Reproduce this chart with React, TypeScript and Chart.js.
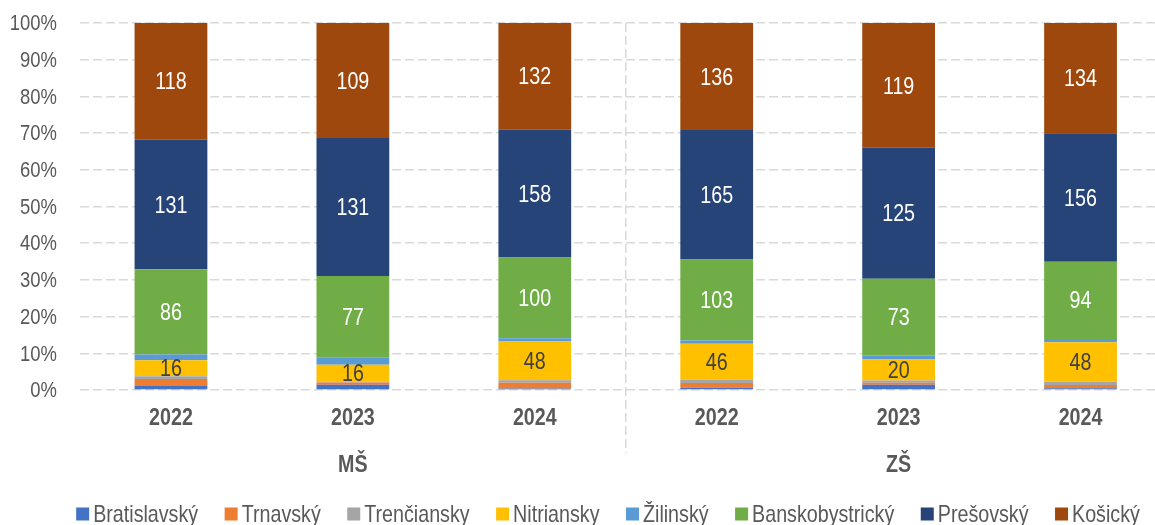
import React, { useEffect, useRef } from 'react';
import { Chart, registerables } from 'chart.js';

Chart.register(...registerables);

const years = ['2022', '2023', '2024', '2022', '2023', '2024'];
const groups = ['MŠ', 'ZŠ'];
const seriesNames = ['Bratislavský', 'Trnavský', 'Trenčiansky', 'Nitriansky', 'Žilinský', 'Banskobystrický', 'Prešovský', 'Košický'];
const seriesColors = ['#4472C4', '#ED7D31', '#A5A5A5', '#FFC000', '#5B9BD5', '#70AD47', '#264478', '#9E480E'];

const bratislavsky = [4, 5, 2, 3, 5, 2];
const trnavsky = [7, 2, 7, 6, 2, 4];
const trenciansky = [3, 1, 3, 4, 2, 4];
const nitriansky = [16, 16, 48, 46, 20, 48];
const zilinsky = [6, 7, 4, 4, 4, 4];
const banskobystricky = [86, 77, 100, 103, 73, 94];
const presovsky = [131, 131, 158, 165, 125, 156];
const kosicky = [118, 109, 132, 136, 119, 134];

const showLabel = [false, false, false, true, false, true, true, true];
const labelColors = ['#fff', '#fff', '#fff', '#404040', '#fff', '#fff', '#fff', '#fff'];

const FONT = "'Liberation Sans', Arial, sans-serif";
const NARROW = 0.82; // emulate Arial Narrow by condensing Arial horizontally
const TEXT = '#595959';
const GRID = '#d9d9d9';

function drawText(
  ctx: CanvasRenderingContext2D,
  text: string,
  x: number,
  y: number,
  size: number,
  bold: boolean,
  color: string,
  align: CanvasTextAlign,
) {
  ctx.save();
  ctx.translate(x, y);
  ctx.scale(NARROW, 1);
  ctx.font = `${bold ? 'bold ' : ''}${size}px ${FONT}`;
  ctx.fillStyle = color;
  ctx.textAlign = align;
  ctx.textBaseline = 'middle';
  ctx.fillText(text, 0, 0);
  ctx.restore();
}

function textWidth(ctx: CanvasRenderingContext2D, text: string, size: number, bold: boolean) {
  ctx.save();
  ctx.font = `${bold ? 'bold ' : ''}${size}px ${FONT}`;
  const w = ctx.measureText(text).width * NARROW;
  ctx.restore();
  return w;
}

export default function App() {
  const ref = useRef<HTMLCanvasElement | null>(null);

  useEffect(() => {
    const raw = [bratislavsky, trnavsky, trenciansky, nitriansky, zilinsky, banskobystricky, presovsky, kosicky];
    const totals = years.map((_, i) => raw.reduce((s, arr) => s + arr[i], 0));

    const labelPlugin = {
      id: 'segLabels',
      afterDatasetsDraw(chart: any) {
        const ctx = chart.ctx;
        chart.data.datasets.forEach((ds: any, di: number) => {
          if (!showLabel[di]) return;
          const meta = chart.getDatasetMeta(di);
          meta.data.forEach((el: any, i: number) => {
            const p = el.getProps(['x', 'y', 'base'], true);
            drawText(ctx, String(raw[di][i]), p.x, (p.y + p.base) / 2 + 1.5, 24, false, labelColors[di], 'center');
          });
        });
      },
    };

    const axisLabelPlugin = {
      id: 'axisLabels',
      afterDraw(chart: any) {
        const ctx = chart.ctx;
        const ys = chart.scales.y;
        ys.ticks.forEach((t: any, i: number) => {
          drawText(ctx, `${t.value}%`, ys.right - 23, ys.getPixelForTick(i) + 1, 22.5, false, TEXT, 'right');
        });
        const xs = chart.scales.x;
        xs.ticks.forEach((t: any, i: number) => {
          drawText(ctx, String(xs.getLabelForValue(t.value)), xs.getPixelForTick(i), xs.top + 28, 24, true, TEXT, 'center');
        });
        const x2 = chart.scales.x2;
        x2.ticks.forEach((t: any, i: number) => {
          drawText(ctx, String(x2.getLabelForValue(t.value)), x2.getPixelForTick(i), x2.top + 33, 24, true, TEXT, 'center');
        });
      },
    };

    const sepPlugin = {
      id: 'separator',
      afterDraw(chart: any) {
        const xs = chart.scales.x;
        const px = (xs.getPixelForValue(2) + xs.getPixelForValue(3)) / 2;
        const ctx = chart.ctx;
        ctx.save();
        ctx.strokeStyle = GRID;
        ctx.lineWidth = 1.5;
        ctx.setLineDash([9, 4]);
        ctx.beginPath();
        ctx.moveTo(px, chart.chartArea.top);
        ctx.lineTo(px, 453);
        ctx.stroke();
        ctx.restore();
      },
    };

    const legendPlugin = {
      id: 'customLegend',
      afterDraw(chart: any) {
        const ctx = chart.ctx;
        const size = 24;
        const box = 13;
        const boxGap = 4;
        const itemGap = 26.5;
        const widths = seriesNames.map((n) => textWidth(ctx, n, size, false));
        const total = widths.reduce((s, w) => s + w + box + boxGap, 0) + itemGap * (seriesNames.length - 1);
        let x = 608 - total / 2;
        const cy = 514;
        seriesNames.forEach((n, i) => {
          ctx.save();
          ctx.fillStyle = seriesColors[i];
          ctx.fillRect(x, cy - box / 2, box, box);
          ctx.restore();
          x += box + boxGap;
          drawText(ctx, n, x, cy + 1, size, false, TEXT, 'left');
          x += widths[i] + itemGap;
        });
      },
    };

    const chart = new Chart(ref.current as HTMLCanvasElement, {
      type: 'bar',
      data: {
        labels: years,
        datasets: seriesNames.map((name, di) => ({
          label: name,
          data: raw[di].map((v, i) => (v / totals[i]) * 100),
          backgroundColor: seriesColors[di],
          borderWidth: 0,
          categoryPercentage: 1,
          barPercentage: 0.4,
        })),
      },
      options: {
        responsive: false,
        animation: false,
        layout: { padding: { left: 11, right: 8.5, top: 23, bottom: 43 } },
        plugins: {
          legend: { display: false },
          tooltip: { enabled: false },
        },
        scales: {
          x: {
            type: 'category',
            stacked: true,
            grid: { display: false, drawTicks: false },
            border: { display: false },
            ticks: { display: false },
            afterFit: (s: any) => { s.height = 42; },
          },
          x2: {
            type: 'category',
            labels: groups,
            position: 'bottom',
            offset: true,
            grid: { display: false, drawTicks: false },
            border: { display: false },
            ticks: { display: false },
            afterFit: (s: any) => { s.height = 50; },
          },
          y: {
            stacked: true,
            min: 0,
            max: 100,
            ticks: { stepSize: 10, display: false },
            grid: { color: GRID, lineWidth: 1.5, drawTicks: false },
            border: { display: false, dash: [9, 4] },
            afterFit: (s: any) => {
              s.width = 69;
              s.paddingTop = 0;
              s.paddingBottom = 0;
            },
          },
        },
      },
      plugins: [labelPlugin, axisLabelPlugin, sepPlugin, legendPlugin],
    } as any);

    return () => chart.destroy();
  }, []);

  return (
    <div style={{ position: 'fixed', left: 0, top: 0, width: 1155, height: 525, overflow: 'hidden', background: '#fff' }}>
      <canvas ref={ref} width={1180} height={525} style={{ width: 1180, height: 525, display: 'block' }} />
    </div>
  );
}
